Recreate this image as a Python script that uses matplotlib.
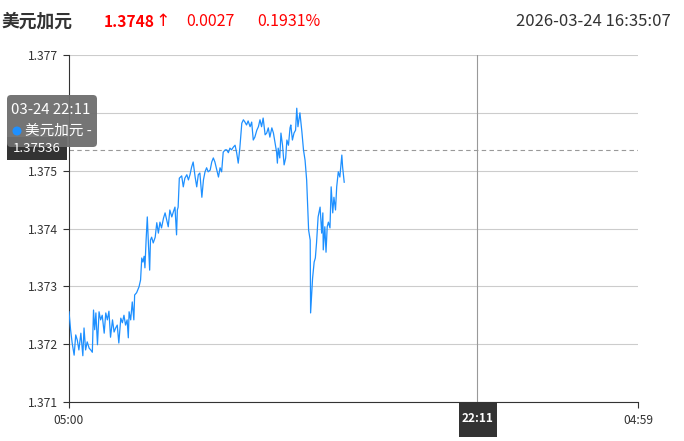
import matplotlib
matplotlib.use('Agg')
import matplotlib.pyplot as plt
from matplotlib.patches import FancyBboxPatch, Circle
from matplotlib.transforms import IdentityTransform

plt.rcParams['font.family'] = ['Noto Sans CJK SC', 'DejaVu Sans']

# Quote header
name = '美元加元'
last_price = '1.3748'
arrow = '↑'
change = '0.0027'
change_pct = '0.1931%'
stamp = '2026-03-24 16:35:07'

# Intraday session 05:00 -> 04:59 (minutes after 05:00)
session_labels = ['05:00', '04:59']
session_len = 1439
cursor_label = '22:11'
cursor_min = 1031
cursor_date = '03-24 22:11'
cursor_price = 1.37536
yticks = [1.371, 1.372, 1.373, 1.374, 1.375, 1.376, 1.377]
# 1.376 sits under the tooltip in the original, so it is not shown
ytick_labels = ['1.371', '1.372', '1.373', '1.374', '1.375', '', '1.377']

mins = [0, 4, 8, 13, 17, 21, 25, 30, 35, 38, 42, 46, 51, 55, 59, 62, 65, 68,
        72, 76, 80, 84, 89, 93, 97, 101, 105, 110, 114, 118, 122, 126, 131,
        135, 139, 143, 147, 150, 152, 156, 160, 164, 166, 171, 177, 181, 184,
        187, 190, 192, 195, 198, 201, 204, 206, 209, 213, 218, 222, 226, 230,
        234, 239, 243, 247, 251, 255, 260, 264, 268, 272, 274, 276, 279, 285,
        289, 293, 298, 302, 306, 310, 314, 319, 323, 327, 331, 336, 340, 344,
        348, 352, 357, 361, 365, 369, 374, 378, 382, 386, 390, 395, 399, 403,
        407, 411, 416, 420, 424, 428, 432, 437, 441, 445, 449, 453, 458, 462,
        466, 470, 475, 479, 483, 487, 491, 496, 500, 504, 508, 513, 517, 521,
        525, 527, 529, 533, 536, 540, 544, 548, 551, 555, 559, 561, 565, 569,
        573, 576, 579, 584, 589, 593, 597, 601, 604, 606, 610, 611, 615, 616,
        620, 623, 626, 630, 635, 639, 642, 643, 647, 650, 653, 656, 660, 663,
        667, 670, 674, 677, 681, 685, 690, 692, 696]
prices = [1.37256, 1.37225, 1.37202, 1.37181, 1.37216, 1.37207, 1.37190,
          1.37219, 1.37180, 1.37228, 1.37190, 1.37204, 1.37193, 1.37190,
          1.37186, 1.37259, 1.37225, 1.37254, 1.37199, 1.37256, 1.37242,
          1.37250, 1.37219, 1.37254, 1.37242, 1.37257, 1.37212, 1.37242,
          1.37221, 1.37228, 1.37233, 1.37202, 1.37245, 1.37237, 1.37250,
          1.37233, 1.37242, 1.37211, 1.37256, 1.37242, 1.37273, 1.37242,
          1.37285, 1.37289, 1.37299, 1.37311, 1.37349, 1.37342, 1.37352,
          1.37332, 1.37380, 1.37420, 1.37371, 1.37328, 1.37380, 1.37385,
          1.37375, 1.37385, 1.37410, 1.37392, 1.37411, 1.37401, 1.37418,
          1.37427, 1.37415, 1.37403, 1.37432, 1.37420, 1.37429, 1.37437,
          1.37389, 1.37432, 1.37437, 1.37487, 1.37491, 1.37472, 1.37487,
          1.37493, 1.37484, 1.37493, 1.37506, 1.37515, 1.37489, 1.37472,
          1.37493, 1.37496, 1.37454, 1.37484, 1.37498, 1.37505, 1.37498,
          1.37501, 1.37515, 1.37522, 1.37515, 1.37501, 1.37489, 1.37505,
          1.37498, 1.37532, 1.37536, 1.37536, 1.37531, 1.37539, 1.37536,
          1.37541, 1.37544, 1.37531, 1.37513, 1.37539, 1.37582, 1.37588,
          1.37584, 1.37579, 1.37586, 1.37576, 1.37584, 1.37553, 1.37558,
          1.37570, 1.37576, 1.37588, 1.37576, 1.37591, 1.37562, 1.37565,
          1.37574, 1.37558, 1.37574, 1.37565, 1.37548, 1.37532, 1.37513,
          1.37539, 1.37522, 1.37565, 1.37544, 1.37510, 1.37522, 1.37553,
          1.37544, 1.37574, 1.37579, 1.37553, 1.37565, 1.37570, 1.37608,
          1.37576, 1.37600, 1.37567, 1.37536, 1.37518, 1.37484, 1.37432,
          1.37397, 1.37380, 1.37254, 1.37302, 1.37314, 1.37342, 1.37349,
          1.37375, 1.37420, 1.37437, 1.37392, 1.37427, 1.37363, 1.37403,
          1.37359, 1.37403, 1.37411, 1.37401, 1.37472, 1.37427, 1.37454,
          1.37432, 1.37472, 1.37498, 1.37489, 1.37527, 1.37506, 1.37480]

W, H = 684, 441
fig = plt.figure(figsize=(W / 100, H / 100), dpi=100)
ax = fig.add_axes([69 / W, 1 - 402 / H, (638 - 69) / W, (402 - 55) / H])

ax.plot(mins, prices, color='#1e90ff', lw=0.9, zorder=3)
ax.set_xlim(0, session_len)
ax.set_ylim(yticks[0], yticks[-1])
ax.set_yticks(yticks)
ax.set_yticklabels(ytick_labels)
ax.set_xticks([0, session_len])
ax.set_xticklabels(session_labels)
ax.grid(axis='y', color='#cccccc', lw=0.8)
ax.set_axisbelow(True)
for s in ('top', 'right'):
    ax.spines[s].set_visible(False)
for s in ('left', 'bottom'):
    ax.spines[s].set_color('#333333')
    ax.spines[s].set_linewidth(0.8)
ax.tick_params(axis='both', colors='#333333', labelsize=8.7, length=4,
               width=0.8, pad=5)
ax.tick_params(axis='y', pad=4)

# crosshair
ax.axvline(cursor_min, color='#999999', lw=0.8, zorder=2)
ax.axhline(cursor_price, color='#999999', lw=0.8, ls=(0, (4, 3)), zorder=2)

# header
def ftext(x, y, s, **kw):
    fig.text(x / W, 1 - y / H, s, va='center', **kw)

ftext(2, 22, name, fontsize=12.8, fontweight='bold', color='#333333')
ftext(104, 22, last_price, fontsize=11.2, fontweight='bold', color='red')
ftext(155, 21, arrow, fontsize=12.5, color='red', family=['DejaVu Sans'])
ftext(186, 22, change, fontsize=11.5, color='red')
ftext(257, 22, change_pct, fontsize=11.5, color='red')
ftext(671, 22, stamp, fontsize=12, color='#333333', ha='right')

px = IdentityTransform()

# y-axis value label
box = FancyBboxPatch((7, H - 160), 60, 23, boxstyle='square,pad=0',
                     fc='#333333', ec='none', transform=px, zorder=10)
fig.patches.append(box)

# tooltip
tip = FancyBboxPatch((10, H - 144), 84, 46,
                     boxstyle='round,pad=3,rounding_size=4',
                     fc='#6e6e6e', ec='none', alpha=0.95,
                     transform=px, zorder=11)
fig.patches.append(tip)
ftext(11, 110, cursor_date, fontsize=10.8, color='white', zorder=12)
fig.patches.append(Circle((17, H - 131), 4.5, fc='#1e90ff', ec='none',
                          transform=px, zorder=12))
ftext(25, 131, '美元加元 -', fontsize=10.5, color='white', zorder=12)

ftext(37, 149, f'{cursor_price:.5f}', fontsize=9.5, color='white',
      ha='center', zorder=13)

# x-axis cursor label
fig.patches.append(FancyBboxPatch((459, H - 437), 38, 34,
                                  boxstyle='square,pad=0', fc='#333333',
                                  ec='none', transform=px, zorder=10))
ftext(478, 418, cursor_label, fontsize=8.5, color='white', ha='center',
      fontweight='bold', zorder=12)

fig.savefig('out.png', dpi=100)
